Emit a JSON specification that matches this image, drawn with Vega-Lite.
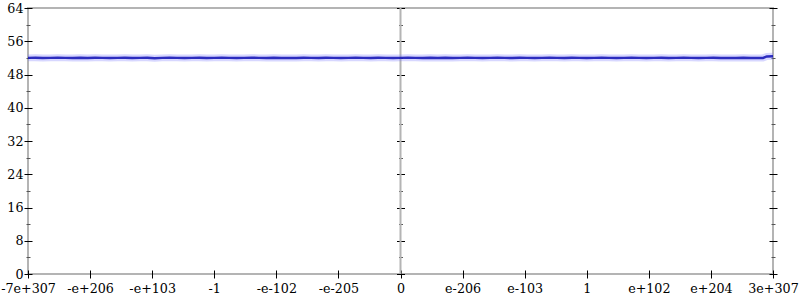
{
  "$schema": "https://vega.github.io/schema/vega-lite/v6.json",
  "width": 745,
  "height": 266,
  "autosize": {"type": "none"},
  "padding": {"left": 28, "top": 8, "right": 27, "bottom": 26},
  "background": "white",
  "config": {
    "view": {"stroke": "#b4b4b4", "strokeWidth": 2},
    "axis": {"labelFont": "DejaVu Serif", "labelFontSize": 12.7, "labelColor": "black", "tickColor": "black", "tickWidth": 1, "domain": false, "grid": false, "title": null, "labelOverlap": false, "labelFlush": false}
  },
  "data": {"values": [
    {"pos": -6.00, "v": 52.0}, {"pos": -5.88, "v": 52.05}, {"pos": -5.76, "v": 51.95}, {"pos": -5.64, "v": 52.0},
    {"pos": -5.52, "v": 52.05}, {"pos": -5.40, "v": 52.0}, {"pos": -5.28, "v": 51.95}, {"pos": -5.16, "v": 52.05},
    {"pos": -5.04, "v": 52.0}, {"pos": -4.92, "v": 52.05}, {"pos": -4.80, "v": 52.0}, {"pos": -4.68, "v": 51.95},
    {"pos": -4.56, "v": 52.0}, {"pos": -4.44, "v": 52.05}, {"pos": -4.32, "v": 51.95}, {"pos": -4.20, "v": 52.0},
    {"pos": -4.08, "v": 52.05}, {"pos": -3.96, "v": 51.9}, {"pos": -3.84, "v": 52.0}, {"pos": -3.72, "v": 52.05},
    {"pos": -3.60, "v": 52.0}, {"pos": -3.48, "v": 51.95}, {"pos": -3.36, "v": 52.0}, {"pos": -3.24, "v": 52.05},
    {"pos": -3.12, "v": 51.95}, {"pos": -3.00, "v": 52.0}, {"pos": -2.88, "v": 52.05}, {"pos": -2.76, "v": 52.0},
    {"pos": -2.64, "v": 51.95}, {"pos": -2.52, "v": 52.0}, {"pos": -2.40, "v": 52.05}, {"pos": -2.28, "v": 52.0},
    {"pos": -2.16, "v": 51.95}, {"pos": -2.04, "v": 52.05}, {"pos": -1.92, "v": 52.0}, {"pos": -1.80, "v": 52.0},
    {"pos": -1.68, "v": 51.95}, {"pos": -1.56, "v": 52.05}, {"pos": -1.44, "v": 52.0}, {"pos": -1.32, "v": 51.95},
    {"pos": -1.20, "v": 52.05}, {"pos": -1.08, "v": 52.0}, {"pos": -0.96, "v": 51.95}, {"pos": -0.84, "v": 52.0},
    {"pos": -0.72, "v": 52.05}, {"pos": -0.60, "v": 52.0}, {"pos": -0.48, "v": 51.95}, {"pos": -0.36, "v": 52.05},
    {"pos": -0.24, "v": 52.0}, {"pos": -0.12, "v": 51.95}, {"pos": 0.00, "v": 52.0}, {"pos": 0.12, "v": 52.05},
    {"pos": 0.24, "v": 52.0}, {"pos": 0.36, "v": 51.95}, {"pos": 0.48, "v": 52.05}, {"pos": 0.60, "v": 52.0},
    {"pos": 0.72, "v": 52.05}, {"pos": 0.84, "v": 51.95}, {"pos": 0.96, "v": 52.0}, {"pos": 1.08, "v": 52.05},
    {"pos": 1.20, "v": 52.0}, {"pos": 1.32, "v": 51.95}, {"pos": 1.44, "v": 52.0}, {"pos": 1.56, "v": 52.05},
    {"pos": 1.68, "v": 52.0}, {"pos": 1.80, "v": 51.95}, {"pos": 1.92, "v": 52.05}, {"pos": 2.04, "v": 52.0},
    {"pos": 2.16, "v": 51.95}, {"pos": 2.28, "v": 52.0}, {"pos": 2.40, "v": 52.05}, {"pos": 2.52, "v": 52.0},
    {"pos": 2.64, "v": 51.95}, {"pos": 2.76, "v": 52.05}, {"pos": 2.88, "v": 52.0}, {"pos": 3.00, "v": 51.95},
    {"pos": 3.12, "v": 52.0}, {"pos": 3.24, "v": 52.05}, {"pos": 3.36, "v": 52.0}, {"pos": 3.48, "v": 51.95},
    {"pos": 3.60, "v": 52.0}, {"pos": 3.72, "v": 52.05}, {"pos": 3.84, "v": 52.0}, {"pos": 3.96, "v": 51.95},
    {"pos": 4.08, "v": 52.0}, {"pos": 4.20, "v": 52.05}, {"pos": 4.32, "v": 51.95}, {"pos": 4.44, "v": 52.0},
    {"pos": 4.56, "v": 52.05}, {"pos": 4.68, "v": 52.0}, {"pos": 4.80, "v": 51.95}, {"pos": 4.92, "v": 52.0},
    {"pos": 5.04, "v": 52.05}, {"pos": 5.16, "v": 51.95}, {"pos": 5.28, "v": 52.0}, {"pos": 5.40, "v": 52.0},
    {"pos": 5.52, "v": 52.05}, {"pos": 5.64, "v": 51.95}, {"pos": 5.76, "v": 52.0}, {"pos": 5.84, "v": 52.0},
    {"pos": 5.90, "v": 52.35}, {"pos": 6.00, "v": 52.4}
  ]},
  "resolve": {"axis": {"y": "independent"}},
  "layer": [
    {
      "data": {"values": [{"pos": 0}]},
      "mark": {"type": "rule", "color": "#b4b4b4", "strokeWidth": 2},
      "encoding": {
        "x": {"field": "pos", "type": "quantitative", "scale": {"domain": [-6, 6], "nice": false, "zero": false},
          "axis": {"orient": "bottom", "offset": -4, "tickSize": 8, "labelPadding": 4,
            "values": [-6, -5, -4, -3, -2, -1, 0, 1, 2, 3, 4, 5, 6],
            "labelExpr": "['-7e+307','-e+206','-e+103','-1','-e-102','-e-205','0','e-206','e-103','1','e+102','e+204','3e+307'][datum.value + 6]"}},
        "y": {"datum": 0, "type": "quantitative", "scale": {"domain": [0, 64], "nice": false},
          "axis": {"orient": "left", "offset": -4, "tickSize": 8, "labelPadding": 1, "values": [0, 8, 16, 24, 32, 40, 48, 56, 64]}},
        "y2": {"datum": 64}
      }
    },
    {
      "data": {"values": [{"pos": 0}]},
      "mark": {"type": "rule", "opacity": 0},
      "encoding": {
        "y": {"datum": 0, "type": "quantitative",
          "axis": {"orient": "left", "offset": -2, "tickSize": 4, "labels": false, "tickColor": "#555555", "values": [4, 12, 20, 28, 36, 44, 52, 60]}}
      }
    },
    {
      "data": {"values": [{"pos": 0}]},
      "mark": {"type": "rule", "opacity": 0},
      "encoding": {
        "y": {"datum": 0, "type": "quantitative",
          "axis": {"orient": "left", "offset": -376.5, "tickSize": 8, "labels": false, "values": [0, 8, 16, 24, 32, 40, 48, 56, 64]}}
      }
    },
    {
      "data": {"values": [{"pos": 0}]},
      "mark": {"type": "rule", "opacity": 0},
      "encoding": {
        "y": {"datum": 0, "type": "quantitative",
          "axis": {"orient": "left", "offset": -374.5, "tickSize": 4, "labels": false, "tickColor": "#555555", "values": [4, 12, 20, 28, 36, 44, 52, 60]}}
      }
    },
    {
      "data": {"values": [{"pos": 0}]},
      "mark": {"type": "rule", "opacity": 0},
      "encoding": {
        "y": {"datum": 0, "type": "quantitative",
          "axis": {"orient": "right", "offset": -4, "tickSize": 8, "labels": false, "values": [0, 8, 16, 24, 32, 40, 48, 56, 64]}}
      }
    },
    {
      "data": {"values": [{"pos": 0}]},
      "mark": {"type": "rule", "opacity": 0},
      "encoding": {
        "y": {"datum": 0, "type": "quantitative",
          "axis": {"orient": "right", "offset": -2, "tickSize": 4, "labels": false, "tickColor": "#555555", "values": [4, 12, 20, 28, 36, 44, 52, 60]}}
      }
    },
    {
      "mark": {"type": "line", "color": "#7a7aff", "strokeWidth": 7, "opacity": 0.3},
      "encoding": {
        "x": {"field": "pos", "type": "quantitative"},
        "y": {"field": "v", "type": "quantitative", "axis": null}
      }
    },
    {
      "mark": {"type": "line", "color": "#1a1ab8", "strokeWidth": 2.5, "opacity": 0.9},
      "encoding": {
        "x": {"field": "pos", "type": "quantitative"},
        "y": {"field": "v", "type": "quantitative", "axis": null}
      }
    }
  ]
}
